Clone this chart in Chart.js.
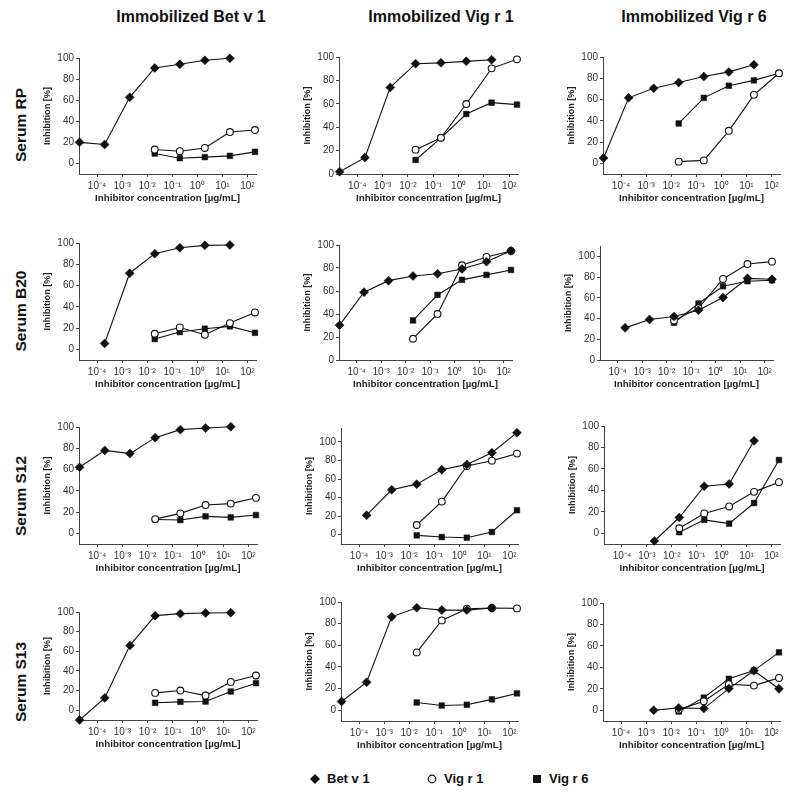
<!DOCTYPE html>
<html><head><meta charset="utf-8">
<script src="https://cdn.jsdelivr.net/npm/chart.js@4.4.1/dist/chart.umd.min.js"></script>
<style>
html,body{margin:0;padding:0;background:#fff;}
body{width:800px;height:795px;position:relative;overflow:hidden;font-family:"Liberation Sans",Arial,Helvetica,sans-serif;color:#111;}
.coltitle{position:absolute;top:8px;font-weight:bold;font-size:16px;white-space:nowrap;transform:translateX(-50%);}
.rowlabel{position:absolute;font-weight:bold;font-size:15.5px;white-space:nowrap;transform:translate(-50%,-50%) rotate(-90deg);}
.leg{position:absolute;top:771px;font-weight:bold;font-size:13px;white-space:nowrap;display:flex;align-items:center;}
.leg svg{margin-right:7px;}
canvas{position:absolute;}
</style>
</head><body>
<script>
// ---------- data ----------
const concentrations = [2e-5, 2e-4, 2e-3, 2e-2, 2e-1, 2, 20, 200];
const xTickValues = [1e-4, 1e-3, 1e-2, 1e-1, 1, 10, 100];
const xTickLabels = ['10⁻⁴', '10⁻³', '10⁻²', '10⁻¹', '10⁰', '10¹', '10²'];
const yTickValues = [0, 20, 40, 60, 80, 100];
const inhibitors = ['Bet v 1', 'Vig r 1', 'Vig r 6'];
const immobilizedAllergens = ['Immobilized Bet v 1', 'Immobilized Vig r 1', 'Immobilized Vig r 6'];
const sera = ['Serum RP', 'Serum B20', 'Serum S12', 'Serum S13'];

// Serum RP
const rpBet_betv1  = [20, 18, 62.7, 90.6, 94, 97.8, 99.7, null];
const rpBet_vigr1  = [null, null, null, 13.2, 11.6, 14.7, 29.8, 31.7];
const rpBet_vigr6  = [null, null, null, 9.4, 5, 6, 7.2, 11];
const rpVig1_betv1 = [2, 14, 74, 94.3, 95, 96.3, 97.7, null];
const rpVig1_vigr1 = [null, null, null, 20.8, 31, 59.8, 90.3, 98];
const rpVig1_vigr6 = [null, null, null, 12, 30.8, 51.3, 61, 59.3];
const rpVig6_betv1 = [5, 61.6, 70.6, 76, 81.6, 86, 92.8, null];
const rpVig6_vigr1 = [null, null, null, 1.6, 2.8, 30.6, 64.4, 84.7];
const rpVig6_vigr6 = [null, null, null, 37.5, 61.6, 73, 78, 84.7];
// Serum B20
const b20Bet_betv1  = [null, 5.6, 71.6, 90, 95.6, 97.8, 98.1, null];
const b20Bet_vigr1  = [null, null, null, 14.7, 20.6, 13.8, 24.7, 34.7];
const b20Bet_vigr6  = [null, null, null, 9.7, 16.3, 19.4, 21.6, 15.6];
const b20Vig1_betv1 = [30.3, 59, 69, 73, 75, 79.2, 85.5, 95];
const b20Vig1_vigr1 = [null, null, null, 18.5, 40, 82.4, 89.6, 94.8];
const b20Vig1_vigr6 = [null, null, null, 34.4, 56.6, 69.7, 74, 78.3];
const b20Vig6_betv1 = [null, 31, 39.1, 42, 48, 60.3, 78.8, 77.9];
const b20Vig6_vigr1 = [null, null, null, 38, 50, 78.2, 92.6, 94.9];
const b20Vig6_vigr6 = [null, null, null, 35.9, 54.5, 71.2, 76, 76.9];
// Serum S12
const s12Bet_betv1  = [62.2, 78, 75, 90, 97.5, 99, 100.3, null];
const s12Bet_vigr1  = [null, null, null, 13.4, 18.8, 26.6, 28, 33.4];
const s12Bet_vigr6  = [null, null, null, 13.1, 12.5, 16, 15, 17.2];
const s12Vig1_betv1 = [null, 21, 48.4, 54.5, 70, 75.8, 88.4, 110];
const s12Vig1_vigr1 = [null, null, null, 10.5, 35.7, 74, 79.8, 87.4];
const s12Vig1_vigr6 = [null, null, null, -0.7, -2.5, -3.2, 2.9, 26.4];
const s12Vig6_betv1 = [null, null, -7.2, 14.7, 43.9, 46, 86.2, null];
const s12Vig6_vigr1 = [null, null, null, 4.7, 18.5, 25, 38.6, 47.6];
const s12Vig6_vigr6 = [null, null, null, 1, 12.5, 9, 28.2, 68.3];
// Serum S13
const s13Bet_betv1  = [-10, 12.5, 66, 96.3, 98.3, 99, 99.3, null];
const s13Bet_vigr1  = [null, null, null, 17.6, 20, 14.9, 28.8, 35.3];
const s13Bet_vigr6  = [null, null, null, 7.5, 8.5, 8.8, 19, 27.5];
const s13Vig1_betv1 = [8, 25.8, 86.3, 94.7, 92.5, 92.5, 94.4, null];
const s13Vig1_vigr1 = [null, null, null, 53.4, 83, 93.8, 94.4, 94.1];
const s13Vig1_vigr6 = [null, null, null, 7.1, 4.3, 5, 10, 15.5];
const s13Vig6_betv1 = [null, null, 0, 2.2, 1.6, 20.2, 36.8, 20];
const s13Vig6_vigr1 = [null, null, null, 0.6, 8.4, 24.3, 23, 30.2];
const s13Vig6_vigr6 = [null, null, null, -1.2, 11.8, 29.3, 37, 54];

const panelSeries = [
  [rpBet_betv1, rpBet_vigr1, rpBet_vigr6], [rpVig1_betv1, rpVig1_vigr1, rpVig1_vigr6], [rpVig6_betv1, rpVig6_vigr1, rpVig6_vigr6],
  [b20Bet_betv1, b20Bet_vigr1, b20Bet_vigr6], [b20Vig1_betv1, b20Vig1_vigr1, b20Vig1_vigr6], [b20Vig6_betv1, b20Vig6_vigr1, b20Vig6_vigr6],
  [s12Bet_betv1, s12Bet_vigr1, s12Bet_vigr6], [s12Vig1_betv1, s12Vig1_vigr1, s12Vig1_vigr6], [s12Vig6_betv1, s12Vig6_vigr1, s12Vig6_vigr6],
  [s13Bet_betv1, s13Bet_vigr1, s13Bet_vigr6], [s13Vig1_betv1, s13Vig1_vigr1, s13Vig1_vigr6], [s13Vig6_betv1, s13Vig6_vigr1, s13Vig6_vigr6]
];

// ---------- layout (axis positions in page px, axis ranges) ----------
const panelLayouts = [
  {axisX: 79, right: 256, top: 58, bottom: 174, yMin: -10, yMax: 100},
  {axisX: 339, right: 518, top: 57, bottom: 174, yMin: 0, yMax: 100},
  {axisX: 603, right: 780, top: 57, bottom: 174, yMin: -10, yMax: 100},
  {axisX: 79, right: 256, top: 243, bottom: 360, yMin: -10, yMax: 100},
  {axisX: 339, right: 512, top: 245, bottom: 360, yMin: 0, yMax: 100},
  {axisX: 600, right: 773, top: 246, bottom: 360, yMin: 0, yMax: 110},
  {axisX: 79, right: 257, top: 427, bottom: 544, yMin: -10, yMax: 100},
  {axisX: 341, right: 518, top: 428, bottom: 544, yMin: -10, yMax: 115},
  {axisX: 604, right: 780, top: 426, bottom: 544, yMin: -10, yMax: 100},
  {axisX: 79, right: 257, top: 612, bottom: 720, yMin: -10, yMax: 100},
  {axisX: 341, right: 518, top: 602, bottom: 721, yMin: -10, yMax: 100},
  {axisX: 603, right: 780, top: 603, bottom: 721, yMin: -10, yMax: 100}
];
const colTitleX = [191, 441, 694];
const rowLabelY = [125, 311, 496, 682];
const legendX = [310, 427, 532];

const seriesStyles = [
  {pointStyle: 'rectRot', radius: 4.5, bg: '#111', bw: 0.5},
  {pointStyle: 'circle', radius: 3.4, bg: '#fff', bw: 1.1},
  {pointStyle: 'rect', radius: 4.0, bg: '#111', bw: 0.5}
];
const FAMILY = '"Liberation Sans", Arial, Helvetica, sans-serif';

// ---------- text ----------
immobilizedAllergens.forEach((t, i) => {
  const d = document.createElement('div');
  d.className = 'coltitle'; d.textContent = t; d.style.left = colTitleX[i] + 'px';
  document.body.appendChild(d);
});
sera.forEach((t, i) => {
  const d = document.createElement('div');
  d.className = 'rowlabel'; d.textContent = t; d.style.left = '21px'; d.style.top = rowLabelY[i] + 'px';
  document.body.appendChild(d);
});
const legendSymbols = [
  '<svg width="10" height="10"><polygon points="5,0 10,5 5,10 0,5" fill="#111"/></svg>',
  '<svg width="10" height="10"><circle cx="5" cy="5" r="3.8" fill="#fff" stroke="#111" stroke-width="1.2"/></svg>',
  '<svg width="10" height="10"><rect x="1" y="1" width="8" height="8" fill="#111"/></svg>'
];
inhibitors.forEach((t, i) => {
  const d = document.createElement('div');
  d.className = 'leg'; d.style.left = legendX[i] + 'px';
  d.innerHTML = legendSymbols[i] + '<span></span>';
  d.querySelector('span').textContent = t;
  document.body.appendChild(d);
});

// ---------- charts ----------
const W = 37, padL = 2, padT = 8, padR = 10, H = 30, padB = 2;
panelLayouts.forEach((L, idx) => {
  const cv = document.createElement('canvas');
  const cw = Math.round(L.right - L.axisX + W + padL + padR);
  const ch = Math.round(L.bottom - L.top + padT + H + padB);
  cv.width = cw; cv.height = ch;
  cv.style.left = (L.axisX - W - padL) + 'px';
  cv.style.top = (L.top - padT) + 'px';
  cv.style.width = cw + 'px'; cv.style.height = ch + 'px';
  document.body.appendChild(cv);

  const datasets = panelSeries[idx].map((vals, s) => ({
    label: inhibitors[s],
    data: concentrations.map((c, i) => vals[i] == null ? null : {x: c, y: vals[i]}).filter(p => p),
    borderColor: '#111', borderWidth: 1.1, backgroundColor: seriesStyles[s].bg,
    pointStyle: seriesStyles[s].pointStyle, pointRadius: seriesStyles[s].radius,
    pointBackgroundColor: seriesStyles[s].bg, pointBorderColor: '#111', pointBorderWidth: seriesStyles[s].bw,
    tension: 0, fill: false, clip: false
  }));

  new Chart(cv, {
    type: 'line',
    data: {datasets},
    options: {
      responsive: false, animation: false, devicePixelRatio: 1,
      layout: {padding: {left: padL, top: padT, right: padR, bottom: padB}},
      plugins: {legend: {display: false}, tooltip: {enabled: false}},
      scales: {
        x: {
          type: 'logarithmic', position: 'bottom', min: 1.9e-5, max: 220,
          afterBuildTicks: a => { a.ticks = xTickValues.map(v => ({value: v})); },
          afterFit: a => { a.height = H; },
          ticks: {autoSkip: false, maxRotation: 0, minRotation: 0, padding: 3, color: '#333',
                  font: {size: 10, family: FAMILY}, callback: (v, i) => xTickLabels[i]},
          grid: {drawOnChartArea: false, drawTicks: true, tickLength: 3, color: '#444'},
          border: {display: true, color: '#444', width: 1},
          title: {display: true, text: 'Inhibitor concentration [µg/mL]', color: '#222', padding: 0,
                  font: {size: 9.8, weight: 'bold', family: FAMILY}}
        },
        y: {
          min: L.yMin, max: L.yMax,
          afterBuildTicks: a => { a.ticks = yTickValues.map(v => ({value: v})); },
          afterFit: a => { a.width = W; },
          ticks: {padding: 2, color: '#333', font: {size: 10, family: FAMILY}},
          grid: {drawOnChartArea: false, drawTicks: true, tickLength: 3, color: '#444'},
          border: {display: true, color: '#444', width: 1},
          title: {display: true, text: 'Inhibition [%]', color: '#222', padding: 0,
                  font: {size: 9.2, weight: 'bold', family: FAMILY}}
        }
      }
    }
  });
});
</script>
</body></html>
